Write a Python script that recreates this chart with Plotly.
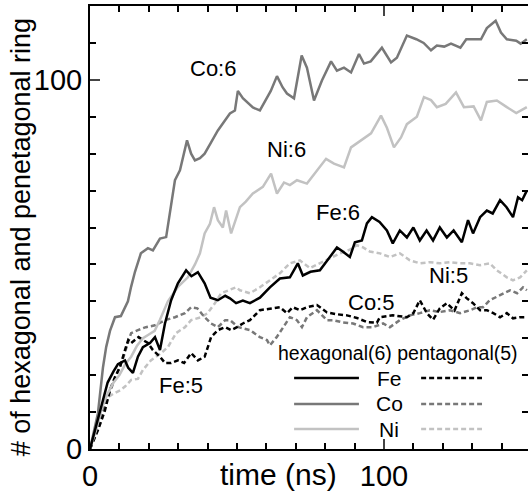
import plotly.graph_objects as go

# ---- data ----
co6_t = [0, 1.5, 2.7, 4.4, 5.5, 6.8, 8.5, 10.5, 12.9, 14, 15.3, 17.3, 19.7, 21.4, 23.8, 25.9, 27.2, 28.9, 30.6, 32.3, 33, 34.4, 35.7, 37.4, 39, 41, 43.5, 45.9, 47.6, 49.3, 50.3, 52, 55.4, 57.8, 59.2, 61.5, 63.6, 65.5, 67, 69.4, 72, 73.8, 76.2, 78.9, 82, 84, 86.4, 88.8, 91.5, 93.2, 95.5, 99.3, 102.4, 104.4, 107.8, 111, 113.5, 116, 118, 120.5, 122.8, 126, 128, 130.5, 133, 135, 138, 139.8, 141.8, 145, 146.5, 148.6]
co6_v = [0, 5, 9.7, 22, 27.6, 32, 35.7, 36, 40, 44, 48, 53, 54.4, 53.8, 57, 57.4, 64.6, 72.8, 75.5, 81.7, 83.6, 80, 78.2, 78.8, 80, 82.8, 86.3, 89, 90.9, 91.7, 97, 95, 92.5, 91.7, 93.6, 97, 101, 98, 96.3, 95, 106.6, 103.3, 94.4, 99.8, 105, 102.5, 103.3, 102, 107, 104.4, 105, 108.7, 104.7, 106, 112, 111, 110, 108, 109.3, 109, 109.8, 108.7, 111, 111, 111, 114, 116, 112.8, 111, 110.6, 109.8, 111]

ni6_t = [0, 2, 4, 6, 8, 10, 12, 14, 16, 18, 20, 22, 23.8, 26.5, 30, 33.3, 35.7, 37.4, 39, 40.8, 42.2, 43.5, 45.2, 46.3, 48, 49.7, 51, 53, 55.4, 58.8, 61.6, 63.6, 66, 68, 70.4, 73.8, 77.2, 80.3, 83, 86.4, 88.8, 92.2, 95.6, 99, 101, 103.4, 105.8, 107.8, 111.2, 113.6, 116, 118, 121, 124.5, 127.2, 130.5, 133, 135, 138.4, 141.8, 145, 148.6]
ni6_v = [0, 5, 11, 15, 18, 20, 23, 25, 28, 30, 31, 32, 35, 40, 44, 46.5, 50, 53, 58.4, 61, 65.5, 62, 60, 64.6, 58.4, 62.8, 65.5, 67, 69.2, 71, 74.6, 69.2, 72.2, 71.5, 72.8, 71.9, 75.5, 78.6, 77.3, 76.3, 81.7, 83.6, 85.5, 90.3, 87, 81.7, 84.4, 88, 90, 95.3, 94.5, 92.6, 93.5, 96.6, 92.6, 92.8, 89, 94, 94.4, 92.6, 91, 92.6]

fe6_t = [0, 2, 4, 6, 8, 9.5, 11.9, 13, 14.6, 16.3, 18, 20.4, 22.1, 23.8, 25.5, 27.6, 29.9, 31.5, 32.7, 34.5, 36.7, 39, 41, 43.5, 46, 47.6, 49.7, 52, 54.4, 57.8, 61.2, 64.6, 68, 70.7, 72.4, 75, 78.2, 81.6, 84, 86, 88.4, 90.1, 92.5, 94.2, 95.9, 98.5, 101, 103, 105.4, 107.8, 110, 112.2, 114.5, 116.7, 119, 121.4, 123.7, 126.5, 128.6, 130.3, 132.7, 135, 137, 139.5, 141.7, 143.9, 145.6, 147, 148.6]
fe6_v = [0, 6, 12, 18, 21, 23, 24, 22, 20.6, 25, 27.6, 28.7, 30.3, 26.8, 34, 40.3, 44.9, 47, 48.4, 46.8, 47.9, 44.9, 41, 40.3, 41.5, 40.8, 39.5, 40.2, 39.5, 41, 43.8, 46.2, 46.5, 50.3, 47, 48, 48.4, 52, 54.6, 53.5, 52, 56, 56.5, 61.1, 62.8, 61.5, 59.2, 55.7, 59.2, 57.3, 60, 56.5, 59.2, 56.5, 60, 57.3, 59.2, 56, 62, 58.4, 62.8, 64.6, 63.8, 67.4, 65.5, 62.8, 68.2, 67.4, 70]

fe5_t = [0, 2.7, 5.1, 6.8, 8.5, 10.2, 11.9, 13, 14, 16.5, 19.7, 21.4, 23.8, 25.5, 27.6, 29.9, 32, 34.4, 36.7, 39, 41.2, 43.5, 46, 48, 50, 52, 54.4, 57.8, 61.2, 64.6, 67, 69, 71.4, 73.8, 77.2, 80.6, 84, 87.4, 90.8, 94.2, 97.6, 98.6, 103, 107.8, 110, 112.2, 114.6, 116.7, 119, 121.4, 124, 126.5, 128.2, 130.3, 132.7, 135, 137.2, 139.5, 141.8, 143.9, 146.3, 148.6]
fe5_v = [0, 5.1, 10.5, 16, 19.5, 22.2, 26.8, 29.5, 28.7, 30.3, 28.7, 26.8, 25, 23.3, 23.3, 24, 23.3, 26, 24, 25, 30.3, 32.2, 33, 32.2, 33, 34, 34.9, 37.6, 38, 38.4, 36.8, 38.4, 37.6, 38.4, 39, 37, 36.5, 36.2, 35.5, 34.4, 34.2, 35.7, 36.2, 35.7, 36.8, 40.3, 36.8, 35, 38.1, 39.5, 37.5, 42.2, 40.8, 39.5, 37.6, 37.6, 36.8, 35.7, 36.8, 35.4, 35.7, 35.7]

co5_t = [0, 3, 6, 9, 11, 13, 14, 16.3, 19, 22.1, 25.5, 28.9, 32.3, 34.4, 36.5, 39, 41.2, 43.5, 46, 47.6, 50.5, 54.4, 57.8, 60.2, 61.2, 63.5, 65.6, 68, 70.4, 72.1, 73.8, 77.2, 80.6, 82.7, 86, 89.5, 92.9, 96.3, 99.7, 102, 105.4, 108.8, 112.2, 115.6, 119, 122.4, 125.9, 129.3, 131.6, 133.7, 136, 138.4, 140.5, 142.9, 145.3, 147.3, 148.6]
co5_v = [0, 7, 14, 20, 24, 29, 31.4, 32.2, 33, 33.5, 34.9, 35.7, 36.8, 38.4, 38.1, 35.7, 34, 33, 34.9, 34.9, 33, 32.2, 30.3, 29.5, 28.1, 30.3, 33, 35.7, 34.9, 33, 35.7, 37.6, 34.9, 34.9, 34.3, 34, 33, 33, 34, 33, 34.9, 36.2, 36.8, 37.6, 37.1, 37.6, 36.8, 37.6, 38.4, 38.4, 40.3, 41.2, 42.2, 43, 42.2, 43.8, 43]

ni5_t = [0, 2, 4, 6, 8, 10.5, 12, 14, 16.3, 18, 20.7, 24.2, 26.5, 29.3, 32.3, 34.4, 37.8, 40, 42.5, 44.6, 47, 49.7, 51, 54.4, 57.8, 61.2, 64.6, 68, 71.4, 74.8, 78.2, 81.6, 85, 88.4, 90.8, 92.9, 95.2, 98.6, 102, 105.4, 108.8, 112.2, 115.6, 119, 122.4, 125.8, 129.2, 132.7, 136, 138.4, 141.8, 143.9, 146.3, 148.6]
ni5_v = [0, 4, 8, 14, 15, 16, 17, 18.7, 19, 21.4, 24, 26, 27.6, 31.4, 33, 34.9, 35.7, 36.8, 39.5, 42.2, 43, 43.8, 43, 42.2, 43.8, 45.7, 47.6, 50.3, 51.1, 49, 50.3, 51.5, 53, 54, 55.2, 54.6, 53.5, 53, 52, 53, 51.1, 50.3, 50.6, 50.3, 50.6, 50.3, 50.3, 49.8, 50.3, 48.4, 46.5, 45.7, 46.5, 48.4]

series_labels = ["Co:6", "Ni:6", "Fe:6", "Co:5", "Ni:5", "Fe:5"]
label_x = [41.8, 66.7, 84.4, 95.6, 122.1, 31.0]
label_y = [103, 81.1, 64.1, 39.8, 47.1, 17.3]

metals = ["Fe", "Co", "Ni"]
x_tick_vals = [0, 100]
y_tick_vals = [0, 100]

# ---- styles ----
C_FE, C_CO, C_NI = "#000000", "#787878", "#c2c2c2"
DASH = "5px,3px"
LW = 2.5
FONT = "Liberation Sans, Arial, sans-serif"

fig = go.Figure()
for t, v, c, d in [
    (ni5_t, ni5_v, C_NI, DASH),
    (co5_t, co5_v, C_CO, DASH),
    (fe5_t, fe5_v, C_FE, DASH),
    (ni6_t, ni6_v, C_NI, "solid"),
    (co6_t, co6_v, C_CO, "solid"),
    (fe6_t, fe6_v, C_FE, "solid"),
]:
    fig.add_trace(go.Scatter(x=t, y=v, mode="lines",
                             line=dict(color=c, width=LW, dash=d),
                             showlegend=False, hoverinfo="skip"))

# invisible trace to activate right y axis
fig.add_trace(go.Scatter(x=[0], y=[0], yaxis="y2", mode="markers",
                         marker=dict(opacity=0), showlegend=False, hoverinfo="skip"))

for txt, xx, yy in zip(series_labels, label_x, label_y):
    fig.add_annotation(x=xx, y=yy, text=txt, showarrow=False,
                       font=dict(size=22, color="black", family=FONT),
                       xanchor="center", yanchor="middle")

# legend built manually (paper coordinates)
fig.add_annotation(x=0.703, y=0.2167, xref="paper", yref="paper",
                   text="hexagonal(6) pentagonal(5)", showarrow=False,
                   font=dict(size=19.5, color="black", family=FONT),
                   xanchor="center", yanchor="middle")
leg_y = [0.160, 0.1016, 0.0451]
for m, c, ly in zip(metals, [C_FE, C_CO, C_NI], leg_y):
    fig.add_shape(type="line", xref="paper", yref="paper",
                  x0=0.466, x1=0.614, y0=ly, y1=ly,
                  line=dict(color=c, width=LW))
    fig.add_shape(type="line", xref="paper", yref="paper",
                  x0=0.756, x1=0.895, y0=ly, y1=ly,
                  line=dict(color=c, width=LW, dash=DASH))
    fig.add_annotation(x=0.683, y=ly, xref="paper", yref="paper",
                       text=m, showarrow=False,
                       font=dict(size=21, color="black", family=FONT),
                       xanchor="center", yanchor="middle")

# axis titles as annotations
fig.add_annotation(x=-0.1575, y=0.478, xref="paper", yref="paper",
                   text="# of hexagonal and penetagonal ring", textangle=-90,
                   showarrow=False, font=dict(size=27, color="black", family=FONT),
                   xanchor="center", yanchor="middle")
fig.add_annotation(x=0.4315, y=-0.058, xref="paper", yref="paper",
                   text="time (ns)", showarrow=False,
                   font=dict(size=30, color="black", family=FONT),
                   xanchor="center", yanchor="middle")

minor_cfg = dict(dtick=10, tick0=0, ticks="inside", ticklen=6,
                 tickwidth=1.5, tickcolor="black", showgrid=False)

fig.update_layout(
    width=528, height=493,
    margin=dict(l=90, r=0, t=6, b=44, autoexpand=False),
    paper_bgcolor="white", plot_bgcolor="white",
    font=dict(family=FONT, color="black"),
    xaxis=dict(range=[0, 149], tickvals=x_tick_vals, ticks="inside", ticklen=10,
               tickwidth=1.5, showline=True, linecolor="black", linewidth=2,
               mirror="ticks", showgrid=False, zeroline=False, automargin=False,
               tickfont=dict(size=29, family=FONT, color="black"),
               minor=minor_cfg),
    yaxis=dict(range=[0, 120], tickvals=y_tick_vals, ticks="inside", ticklen=10,
               tickwidth=1.5, showline=True, linecolor="black", linewidth=2,
               mirror=False, showgrid=False, zeroline=False, automargin=False,
               tickfont=dict(size=29, family=FONT, color="black"),
               minor=minor_cfg),
    yaxis2=dict(range=[0, 120], overlaying="y", side="right", tickvals=y_tick_vals,
                ticks="inside", ticklen=10, tickwidth=1.5, showline=False,
                showticklabels=False, showgrid=False, zeroline=False,
                automargin=False, minor=minor_cfg),
)

fig.write_html("out.html", config={"displayModeBar": False},
               post_script="document.body.style.margin='0px';document.body.style.overflow='hidden';")
